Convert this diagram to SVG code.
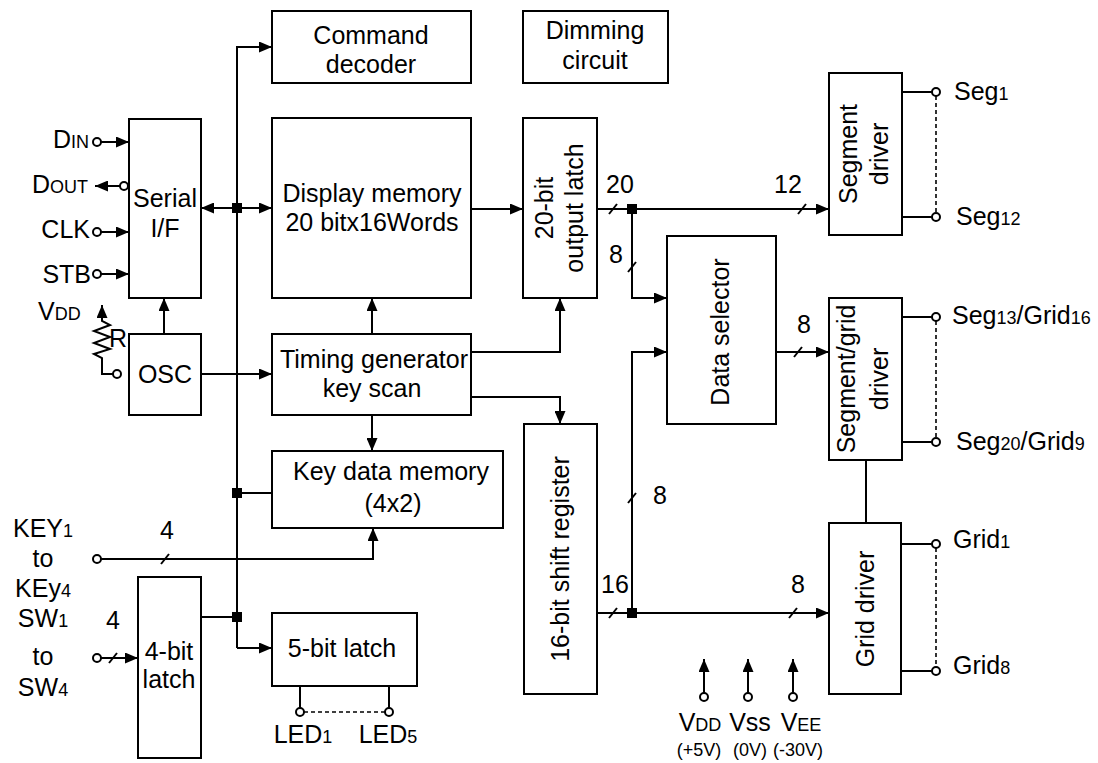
<svg xmlns="http://www.w3.org/2000/svg" width="1098" height="763" viewBox="0 0 1098 763">
<defs>
<style>
.box{fill:#fff;stroke:#000;stroke-width:2}
.ln{fill:none;stroke:#000;stroke-width:2}
.dash{fill:none;stroke:#000;stroke-width:1.6;stroke-dasharray:4 3}
.pinc{fill:#fff;stroke:#000;stroke-width:2}
.jn{fill:#000}
text{font-family:"Liberation Sans",Arial,sans-serif;fill:#000}
.t{font-size:25px;text-anchor:middle}
.p{font-size:25px}
.s{font-size:18px}
.v{font-size:18px;text-anchor:middle}
.a{marker-end:url(#ah)}
.aa{marker-end:url(#ah);marker-start:url(#ahs)}
</style>
<marker id="ah" viewBox="0 0 13 11" refX="13" refY="5.5" markerWidth="13" markerHeight="11" markerUnits="userSpaceOnUse" orient="auto"><path d="M0,0 L13,5.5 L0,11 Z" fill="#000"/></marker>
<marker id="ahs" viewBox="0 0 13 11" refX="13" refY="5.5" markerWidth="13" markerHeight="11" markerUnits="userSpaceOnUse" orient="auto-start-reverse"><path d="M0,0 L13,5.5 L0,11 Z" fill="#000"/></marker>
</defs>
<rect width="1098" height="763" fill="#fff"/>

<g id="connectors">
<path class="ln a" d="M237,648 L237,47 L272,47"/>
<path class="ln a" d="M237,648 L272,648"/>
<path class="ln aa" d="M201,208 L272,208"/>
<path class="ln" d="M237,493 L272,493"/>
<path class="ln" d="M201,617 L237,617"/>
<path class="ln a" d="M164,334 L164,298"/>
<path class="ln a" d="M201,374 L272,374"/>
<path class="ln a" d="M372,334 L372,298"/>
<path class="ln a" d="M372,415 L372,451"/>
<path class="ln a" d="M471,352 L560,352 L560,298"/>
<path class="ln a" d="M471,397 L560,397 L560,424"/>
<path class="ln a" d="M471,209 L523,209"/>
<path class="ln a" d="M597,209 L829,209"/>
<path class="ln a" d="M632,209 L632,298 L667,298"/>
<path class="ln a" d="M632,613 L632,352 L667,352"/>
<path class="ln a" d="M776,352 L829,352"/>
<path class="ln a" d="M597,613 L829,613"/>
<path class="ln" d="M866,460 L866,523"/>
<path class="ln" d="M609,214 L617,204"/>
<path class="ln" d="M798,214 L806,204"/>
<path class="ln" d="M628,272 L636,262"/>
<path class="ln" d="M794,357 L802,347"/>
<path class="ln" d="M628,503 L636,493"/>
<path class="ln" d="M609,618 L617,608"/>
<path class="ln" d="M789,618 L797,608"/>
<path class="ln" d="M161,564 L169,554"/>
<path class="ln" d="M109,663 L117,653"/>
<path class="ln a" d="M101,559 L373,559 L373,528"/>
<path class="ln a" d="M101,658 L138,658"/>
<path class="ln a" d="M101,142 L129,142"/>
<path class="ln a" d="M120,186 L95,186"/>
<path class="ln a" d="M101,232 L129,232"/>
<path class="ln a" d="M101,274 L129,274"/>
<path class="ln a" d="M102,318 L102,305"/>
<path class="ln" d="M102,318 L102,321 L110,325 L94,331 L110,337 L94,343 L110,349 L94,354 L102,358 L102,374 L113,374"/>
<path class="ln" d="M300,686 L300,708"/>
<path class="ln" d="M389,686 L389,708"/>
<path class="dash" d="M304,712 L385,712"/>
<path class="ln" d="M902,92 L932,92"/>
<path class="ln" d="M902,217 L932,217"/>
<path class="dash" d="M936,96 L936,213"/>
<path class="ln" d="M902,317 L932,317"/>
<path class="ln" d="M902,442 L932,442"/>
<path class="dash" d="M936,321 L936,438"/>
<path class="ln" d="M902,544 L932,544"/>
<path class="ln" d="M902,671 L932,671"/>
<path class="dash" d="M936,548 L936,667"/>
<path class="ln a" d="M704,693 L704,659"/>
<path class="ln a" d="M748,693 L748,659"/>
<path class="ln a" d="M793,693 L793,659"/>
<rect class="jn" x="232" y="203" width="10" height="10"/>
<rect class="jn" x="232" y="488" width="10" height="10"/>
<rect class="jn" x="232" y="612" width="10" height="10"/>
<rect class="jn" x="627" y="204" width="10" height="10"/>
<rect class="jn" x="627" y="608" width="10" height="10"/>
<circle class="pinc" cx="97" cy="142" r="4"/>
<circle class="pinc" cx="124" cy="186" r="4"/>
<circle class="pinc" cx="97" cy="232" r="4"/>
<circle class="pinc" cx="97" cy="274" r="4"/>
<circle class="pinc" cx="117" cy="374" r="4"/>
<circle class="pinc" cx="97" cy="559" r="4"/>
<circle class="pinc" cx="97" cy="658" r="4"/>
<circle class="pinc" cx="300" cy="712" r="4"/>
<circle class="pinc" cx="389" cy="712" r="4"/>
<circle class="pinc" cx="936" cy="92" r="4"/>
<circle class="pinc" cx="936" cy="217" r="4"/>
<circle class="pinc" cx="936" cy="317" r="4"/>
<circle class="pinc" cx="936" cy="442" r="4"/>
<circle class="pinc" cx="936" cy="544" r="4"/>
<circle class="pinc" cx="936" cy="671" r="4"/>
<circle class="pinc" cx="704" cy="697" r="4"/>
<circle class="pinc" cx="748" cy="697" r="4"/>
<circle class="pinc" cx="793" cy="697" r="4"/>
<text class="t" x="620" y="193">20</text>
<text class="t" x="788" y="193">12</text>
<text class="t" x="616" y="263">8</text>
<text class="t" x="804" y="333">8</text>
<text class="t" x="660" y="504">8</text>
<text class="t" x="615" y="593">16</text>
<text class="t" x="798" y="593">8</text>
<text class="t" x="167" y="539">4</text>
<text class="t" x="113" y="629">4</text>
</g>

<g id="serial-if"><rect class="box" x="129" y="119" width="72" height="179"/>
<text class="t" x="165" y="207">Serial</text><text class="t" x="165" y="237">I/F</text></g>
<g id="osc"><rect class="box" x="129" y="334" width="72" height="81"/>
<text class="t" x="165" y="383">OSC</text></g>
<g id="command-decoder"><rect class="box" x="272" y="11" width="199" height="72"/>
<text class="t" x="371" y="44">Command</text><text class="t" x="371" y="73">decoder</text></g>
<g id="dimming-circuit"><rect class="box" x="523" y="11" width="145" height="72"/>
<text class="t" x="595" y="39">Dimming</text><text class="t" x="595" y="69">circuit</text></g>
<g id="display-memory"><rect class="box" x="272" y="118" width="199" height="180"/>
<text class="t" x="372" y="202">Display memory</text><text class="t" x="372" y="231">20 bitx16Words</text></g>
<g id="output-latch"><rect class="box" x="523" y="118" width="74" height="180"/>
<text class="t" transform="translate(553,208) rotate(-90)">20-bit</text>
<text class="t" transform="translate(583,208) rotate(-90)">output latch</text></g>
<g id="timing-generator"><rect class="box" x="272" y="334" width="199" height="81"/>
<text class="t" x="374" y="368">Timing generator</text><text class="t" x="372" y="397">key scan</text></g>
<g id="key-data-memory"><rect class="box" x="272" y="451" width="231" height="77"/>
<text class="t" x="391" y="480">Key data memory</text><text class="t" x="393" y="512">(4x2)</text></g>
<g id="five-bit-latch"><rect class="box" x="272" y="613" width="145" height="73"/>
<text class="t" x="342" y="657">5-bit latch</text></g>
<g id="four-bit-latch"><rect class="box" x="138" y="577" width="63" height="181"/>
<text class="t" x="169" y="660">4-bit</text><text class="t" x="169" y="688">latch</text></g>
<g id="shift-register"><rect class="box" x="524" y="424" width="73" height="270"/>
<text class="t" transform="translate(569,559) rotate(-90)">16-bit shift register</text></g>
<g id="data-selector"><rect class="box" x="667" y="236" width="109" height="188"/>
<text class="t" transform="translate(729,332) rotate(-90)">Data selector</text></g>
<g id="segment-driver"><rect class="box" x="829" y="73" width="73" height="162"/>
<text class="t" transform="translate(857,154) rotate(-90)">Segment</text>
<text class="t" transform="translate(888,154) rotate(-90)">driver</text></g>
<g id="segment-grid-driver"><rect class="box" x="829" y="298" width="73" height="162"/>
<text class="t" transform="translate(855,379) rotate(-90)">Segment/grid</text>
<text class="t" transform="translate(888,379) rotate(-90)">driver</text></g>
<g id="grid-driver"><rect class="box" x="829" y="523" width="72" height="171"/>
<text class="t" transform="translate(874,609) rotate(-90)">Grid driver</text></g>

<g id="pin-labels">
<text class="p" x="89" y="148" text-anchor="end">D<tspan class="s">IN</tspan></text>
<text class="p" x="88" y="193" text-anchor="end">D<tspan class="s">OUT</tspan></text>
<text class="p" x="90" y="238" text-anchor="end">CLK</text>
<text class="p" x="91" y="283" text-anchor="end">STB</text>
<text class="p" x="38" y="320">V<tspan class="s">DD</tspan></text>
<text class="p" x="109" y="347">R</text>
<text class="p" x="43" y="537" text-anchor="middle">KEY<tspan class="s">1</tspan></text>
<text class="p" x="43" y="567" text-anchor="middle">to</text>
<text class="p" x="43" y="597" text-anchor="middle">KEy<tspan class="s">4</tspan></text>
<text class="p" x="43" y="627" text-anchor="middle">SW<tspan class="s">1</tspan></text>
<text class="p" x="43" y="665" text-anchor="middle">to</text>
<text class="p" x="43" y="696" text-anchor="middle">SW<tspan class="s">4</tspan></text>
<text class="p" x="303" y="743" text-anchor="middle">LED<tspan class="s">1</tspan></text>
<text class="p" x="388" y="743" text-anchor="middle">LED<tspan class="s">5</tspan></text>
<text class="p" x="954" y="100">Seg<tspan class="s">1</tspan></text>
<text class="p" x="956" y="225">Seg<tspan class="s">12</tspan></text>
<text class="p" x="952" y="324">Seg<tspan class="s">13</tspan>/Grid<tspan class="s">16</tspan></text>
<text class="p" x="956" y="450">Seg<tspan class="s">20</tspan>/Grid<tspan class="s">9</tspan></text>
<text class="p" x="953" y="548">Grid<tspan class="s">1</tspan></text>
<text class="p" x="953" y="674">Grid<tspan class="s">8</tspan></text>
<text class="p" x="700" y="731" text-anchor="middle">V<tspan class="s">DD</tspan></text>
<text class="p" x="750" y="731" text-anchor="middle">Vss</text>
<text class="p" x="801" y="731" text-anchor="middle">V<tspan class="s">EE</tspan></text>
<text class="v" x="699" y="756">(+5V)</text>
<text class="v" x="750" y="756">(0V)</text>
<text class="v" x="798" y="756">(-30V)</text>
</g>
</svg>
